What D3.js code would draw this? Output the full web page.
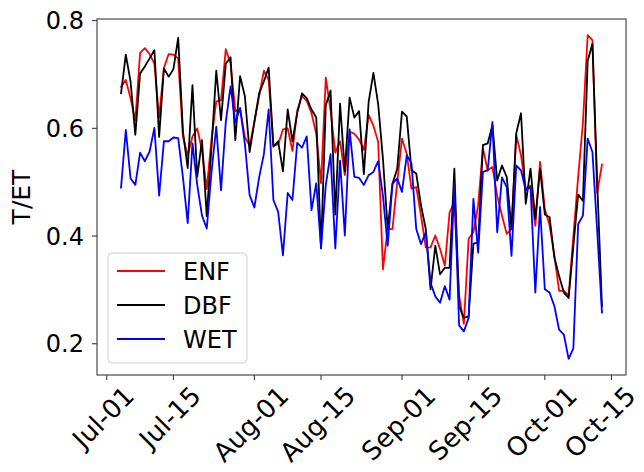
<!DOCTYPE html>
<html><head><meta charset="utf-8">
<script src="https://cdn.jsdelivr.net/npm/d3@7"></script>
<style>
body{margin:0;background:#fff}
svg{display:block}
text{font-family:"DejaVu Sans",sans-serif;fill:#000}
</style>
</head><body>
<svg id="chart" width="644" height="472"></svg>
<script>
// Daily T/ET ratio, 4 Jul - 13 Oct
const startDate = "2019-07-04";

const enf = [
  0.677,0.690,0.656,0.615,0.740,0.749,0.738,0.720,0.620,0.712,
  0.738,0.737,0.730,0.585,0.550,0.585,0.600,0.560,0.487,0.580,
  0.650,0.652,0.747,0.720,0.632,0.636,0.584,0.568,0.611,0.660,
  0.707,0.690,0.568,0.570,0.598,0.600,0.558,0.633,0.660,0.651,
  0.628,0.590,0.498,0.694,0.633,0.555,0.576,0.513,0.594,0.590,
  0.579,0.560,0.625,0.605,0.575,0.338,0.413,0.413,0.500,0.581,
  0.553,0.488,0.491,0.438,0.379,0.379,0.401,0.376,0.345,0.444,
  0.463,0.290,0.237,0.395,0.407,0.457,0.563,0.522,0.528,0.475,
  0.438,0.404,0.413,0.588,0.550,0.488,0.494,0.419,0.538,0.450,
  0.420,0.365,0.298,0.298,0.290,0.400,0.510,0.610,0.773,0.764,
  0.480,0.533
];
const dbf = [
  0.665,0.737,0.687,0.588,0.702,0.715,0.730,0.745,0.584,0.711,
  0.696,0.710,0.768,0.594,0.526,0.680,0.510,0.578,0.437,0.565,
  0.707,0.615,0.720,0.732,0.578,0.697,0.660,0.556,0.612,0.665,
  0.687,0.713,0.566,0.576,0.520,0.635,0.576,0.628,0.665,0.656,
  0.635,0.620,0.377,0.643,0.670,0.440,0.646,0.520,0.657,0.620,
  0.632,0.515,0.649,0.703,0.645,0.544,0.413,0.497,0.525,0.631,
  0.622,0.522,0.516,0.457,0.413,0.301,0.382,0.329,0.341,0.341,
  0.525,0.270,0.248,0.251,0.386,0.388,0.569,0.572,0.606,0.503,
  0.531,0.510,0.413,0.591,0.628,0.460,0.525,0.432,0.525,0.440,
  0.435,0.360,0.326,0.295,0.285,0.382,0.477,0.465,0.725,0.757,
  0.500,0.270
];
const wet = [
  0.490,0.597,0.507,0.495,0.555,0.539,0.557,0.601,0.475,0.576,
  0.576,0.583,0.582,0.509,0.424,0.572,0.495,0.438,0.414,0.519,
  0.603,0.485,0.612,0.678,0.611,0.638,0.572,0.476,0.453,0.509,
  0.552,0.635,0.467,0.445,0.364,0.480,0.467,0.573,0.564,0.585,
  0.448,0.498,0.378,0.495,0.552,0.377,0.540,0.401,0.598,0.510,
  0.508,0.495,0.513,0.519,0.539,0.475,0.382,0.497,0.507,0.482,
  0.550,0.535,0.413,0.385,0.407,0.313,0.288,0.276,0.307,0.282,
  0.497,0.234,0.223,0.248,0.469,0.369,0.519,0.522,0.612,0.407,
  0.509,0.491,0.363,0.531,0.522,0.485,0.491,0.295,0.454,0.301,
  0.295,0.270,0.226,0.217,0.172,0.192,0.422,0.438,0.581,0.556,
  0.410,0.258
];

const seriesNames = ["ENF", "DBF", "WET"];
const seriesColors = ["#ff0000", "#000000", "#0000ff"];

const xTickDates = ["2019-07-01","2019-07-15","2019-08-01","2019-08-15",
                    "2019-09-01","2019-09-15","2019-10-01","2019-10-15"];
const xTickLabels = ["Jul-01","Jul-15","Aug-01","Aug-15",
                     "Sep-01","Sep-15","Oct-01","Oct-15"];
const yTicks = [0.2, 0.4, 0.6, 0.8];
const yTickLabels = ["0.2", "0.4", "0.6", "0.8"];
const yTitle = "T/ET";

// ---- layout ----
const width = 644;
const svg = d3.select("#chart");
const box = {left: 97, right: 626, top: 19, bottom: 375};
const fontSize = 24;
const xFontSize = 26;
const axisColor = "#3a3a3a";

const parse = d3.timeParse("%Y-%m-%d");
const t0 = parse(startDate);
const dates = enf.map((_, i) => d3.timeDay.offset(t0, i));

// 5% padding on both axes around the data extent
const tFirst = dates[0], tLast = dates[dates.length - 1];
const spanMs = tLast - tFirst;
const x = d3.scaleTime()
  .domain([new Date(+tFirst - 0.05 * spanMs), new Date(+tLast + 0.05 * spanMs)])
  .range([box.left, box.right]);

const allVals = enf.concat(dbf, wet);
const vMin = d3.min(allVals), vMax = d3.max(allVals);
const vPad = 0.05 * (vMax - vMin);
const y = d3.scaleLinear()
  .domain([vMin - vPad, vMax + vPad])
  .range([box.bottom, box.top]);

// ---- series lines ----
const seriesData = [enf, dbf, wet];
const line = d3.line()
  .x(d => x(d.date))
  .y(d => y(d.value));

const plot = svg.append("g");
seriesData.forEach((vals, k) => {
  const pts = vals.map((v, i) => ({date: dates[i], value: v}));
  plot.append("path")
    .datum(pts)
    .attr("d", line)
    .attr("fill", "none")
    .attr("stroke", seriesColors[k])
    .attr("stroke-width", 1.8)
    .attr("stroke-linejoin", "round")
    .attr("stroke-linecap", "square");
});

// ---- frame ----
svg.append("rect")
  .attr("x", box.left).attr("y", box.top)
  .attr("width", box.right - box.left).attr("height", box.bottom - box.top)
  .attr("fill", "none").attr("stroke", axisColor).attr("stroke-width", 1.1);

// ---- x axis ticks and rotated labels (bounding box centred under the tick) ----
const xg = svg.append("g");
xTickDates.forEach((ds, i) => {
  const px = x(parse(ds));
  xg.append("line")
    .attr("x1", px).attr("x2", px)
    .attr("y1", box.bottom).attr("y2", box.bottom + 5)
    .attr("stroke", axisColor).attr("stroke-width", 1.1);
  const txt = xg.append("text")
    .attr("font-size", xFontSize)
    .attr("text-anchor", "end")
    .attr("dy", "0.32em")
    .text(xTickLabels[i]);
  const L = txt.node().getComputedTextLength();
  const H = xFontSize * 1.16;
  const top = box.bottom + 6;
  // keep the rotated label inside the canvas on the right
  const ax = Math.min(px + 0.354 * L - 3, width - 2 - 0.354 * H);
  const ay = top + 0.354 * H;
  txt.attr("transform", `translate(${ax},${ay}) rotate(-45)`);
});

// ---- y axis ticks and labels ----
const yg = svg.append("g");
yTicks.forEach((v, i) => {
  const py = y(v);
  yg.append("line")
    .attr("x1", box.left - 5).attr("x2", box.left)
    .attr("y1", py).attr("y2", py)
    .attr("stroke", axisColor).attr("stroke-width", 1.1);
  yg.append("text")
    .attr("x", box.left - 13)
    .attr("y", py)
    .attr("dy", "0.36em")
    .attr("text-anchor", "end")
    .attr("font-size", fontSize)
    .text(yTickLabels[i]);
});

svg.append("text")
  .attr("transform", `translate(${30},${(box.top + box.bottom) / 2}) rotate(-90)`)
  .attr("text-anchor", "middle")
  .attr("font-size", 25)
  .text(yTitle);

// ---- legend ----
const lg = svg.append("g");
lg.append("rect")
  .attr("x", 108).attr("y", 253)
  .attr("width", 139).attr("height", 110)
  .attr("rx", 4).attr("ry", 4)
  .attr("fill", "#ffffff").attr("fill-opacity", 0.85)
  .attr("stroke", "#d0d0d0").attr("stroke-width", 1);
seriesNames.forEach((name, k) => {
  const ly = 271 + k * 34;
  lg.append("line")
    .attr("x1", 117).attr("x2", 165)
    .attr("y1", ly).attr("y2", ly)
    .attr("stroke", seriesColors[k]).attr("stroke-width", 1.8);
  lg.append("text")
    .attr("x", 183).attr("y", ly)
    .attr("dy", "0.36em")
    .attr("font-size", fontSize)
    .text(name);
});
</script>
</body></html>
